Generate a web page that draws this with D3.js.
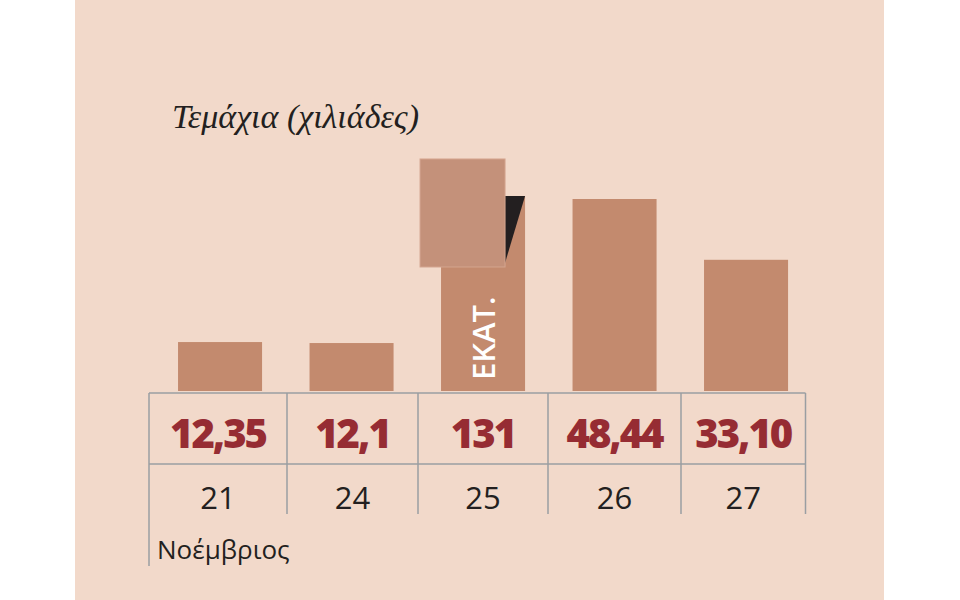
<!DOCTYPE html>
<html><head><meta charset="utf-8">
<script src="https://cdn.jsdelivr.net/npm/d3@7/dist/d3.min.js"></script>
<style>body{margin:0;background:#fff}svg{display:block}</style></head>
<body><svg id="c" width="960" height="600"></svg>
<script>
const days = ["21","24","25","26","27"];
const values = [12.35, 12.1, 131, 48.44, 33.10];
const valueLabels = ["12,35","12,1","131","48,44","33,10"];
const brokenCap = 49.2; // drawn height of the broken bar
const title = "Τεμάχια (χιλιάδες)";
const month = "Νοέμβριος";
const brokenText = "ΕΚΑΤ.";

const svg = d3.select("#c");
svg.append("rect").attr("x",75).attr("y",0).attr("width",809).attr("height",600).attr("fill","#f2d9ca");

const x = d3.scaleBand().domain(days).range([154.3, 811.8]).paddingInner(0.361).paddingOuter(0.1805);
const y = d3.scaleLinear().domain([0, 48.44]).range([391, 199]);

svg.append("text").attr("x",172).attr("y",128).text(title)
  .attr("font-family","Liberation Serif").attr("font-style","italic").attr("font-size",34).attr("fill","#231f20");

const barColor = "#c38a6e";
svg.selectAll("rect.bar").data(days).join("rect").attr("class","bar")
  .attr("x", d=>x(d)).attr("width", x.bandwidth())
  .attr("y", (d,i)=>y(Math.min(values[i], brokenCap)))
  .attr("height", (d,i)=>y(0)-y(Math.min(values[i], brokenCap)))
  .attr("fill", barColor);

// broken bar decoration
const bi = 2, bd = days[bi];
const bx = x(bd), bw = x.bandwidth(), btop = y(brokenCap);
const sqX = bx - 21, sqW = 85, sqY = btop - 37, sqH = 108;
svg.append("path").attr("d",`M${sqX+sqW},${btop}L${bx+bw},${btop}L${sqX+sqW},${sqY+sqH-4}Z`).attr("fill","#231f20");
svg.append("rect").attr("x",sqX).attr("y",sqY).attr("width",sqW).attr("height",sqH).attr("fill","#c4917a").attr("stroke","#d4a58f").attr("stroke-width",1);
svg.append("text").attr("transform",`translate(${bx+bw/2+12},380) rotate(-90)`).text(brokenText)
  .attr("font-family","Open Sans").attr("font-weight",600).attr("font-size",31).attr("fill","#fff");

// table
const g = "#9a9ea2";
const xl = 149, xr = 805.5;
[393,464].forEach(yy=>svg.append("line").attr("x1",xl).attr("x2",xr).attr("y1",yy).attr("y2",yy).attr("stroke",g).attr("stroke-width",1.5));
svg.append("line").attr("x1",xl).attr("x2",xl).attr("y1",393).attr("y2",566).attr("stroke",g).attr("stroke-width",1.5);
const seps = [287,418,548,681,805.5];
seps.forEach(sx=>svg.append("line").attr("x1",sx).attr("x2",sx).attr("y1",393).attr("y2",514).attr("stroke",g).attr("stroke-width",1.5));
const cellEdges = [xl, ...seps];
svg.selectAll("text.val").data(valueLabels).join("text").attr("class","val")
  .attr("x",(d,i)=>(cellEdges[i]+cellEdges[i+1])/2).attr("y",448).attr("text-anchor","middle")
  .text(d=>d).attr("font-family","Open Sans").attr("font-weight",800).attr("font-size",40)
  .attr("letter-spacing",-2).attr("fill","#962c33");
svg.selectAll("text.day").data(days).join("text").attr("class","day")
  .attr("x",(d,i)=>(cellEdges[i]+cellEdges[i+1])/2).attr("y",509).attr("text-anchor","middle")
  .text(d=>d).attr("font-family","Open Sans").attr("font-size",31).attr("fill","#231f20");
svg.append("text").attr("x",157).attr("y",559).text(month)
  .attr("font-family","Open Sans").attr("font-size",26).attr("fill","#231f20");
</script></body></html>
